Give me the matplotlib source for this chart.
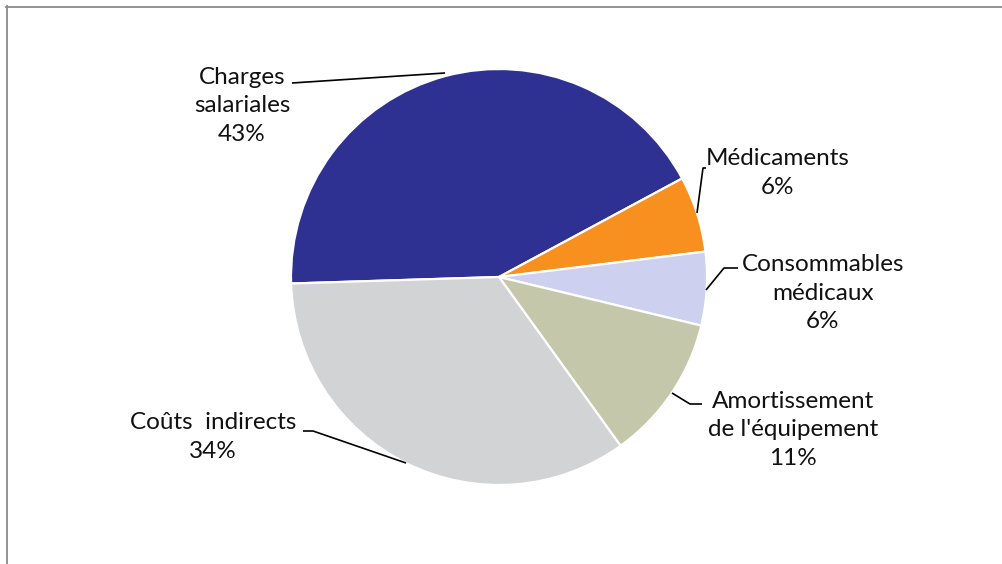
import numpy as np
import matplotlib
matplotlib.use("Agg")
import matplotlib.pyplot as plt
from matplotlib.lines import Line2D

categories = ["Charges\nsalariales", "Médicaments", "Consommables\nmédicaux",
              "Amortissement\nde l'équipement", "Coûts  indirects"]
values = [42.6, 5.9, 5.7, 11.3, 34.4]
colors = ["#2E3191", "#F7901E", "#CDD0EE", "#C4C7AA", "#D1D3D4"]

plt.rcParams['font.family'] = ['Lato', 'DejaVu Sans']

W, H = 1002, 564
fig = plt.figure(figsize=(W / 100, H / 100), dpi=100)
ax = fig.add_axes([0, 0, 1, 1])
ax.set_xlim(0, W)
ax.set_ylim(0, H)
ax.axis("off")

cx, cy, R = 499, H - 277, 208
wedges, _ = ax.pie(values, colors=colors, startangle=181.8, counterclock=False,
                   center=(cx, cy), radius=R, frame=False,
                   wedgeprops=dict(edgecolor="white", linewidth=1.6))
ax.set_xlim(0, W)
ax.set_ylim(0, H)
ax.set_aspect("equal")

# label centres (pixels, top-based)
label_pos = [(242, 106), (778, 173), (823, 293), (793, 430), (213, 437)]
# leader line vertices (pixels, top-based)
leaders = [
    [(445, 73), (292, 83)],
    [(697, 213), (703, 168), (706, 168)],
    [(706, 290), (724, 268), (738, 268)],
    [(672, 393), (690, 404), (702, 404)],
    [(406, 463), (313, 431), (303, 431)],
]

for i, (w, cat, v) in enumerate(zip(wedges, categories, values)):
    tx, ty = label_pos[i]
    ax.text(tx, H - ty, f"{cat}\n{v:.0f}%", ha="center", va="center",
            fontsize=17.5, color="#111111", linespacing=1.42)
    pts = leaders[i]
    xs = [p[0] for p in pts]
    ys = [H - p[1] for p in pts]
    ax.plot(xs, ys, color="black", lw=1.2, solid_capstyle="butt")

# outer frame (top and left visible)
fig.add_artist(Line2D([6 / W, 1.0], [1 - 6.5 / H, 1 - 6.5 / H], transform=fig.transFigure,
                      color="#8a8a8a", lw=1.3))
fig.add_artist(Line2D([6.5 / W, 6.5 / W], [0, 1 - 6 / H], transform=fig.transFigure,
                      color="#8a8a8a", lw=1.3))

fig.savefig("out.png", dpi=100)
